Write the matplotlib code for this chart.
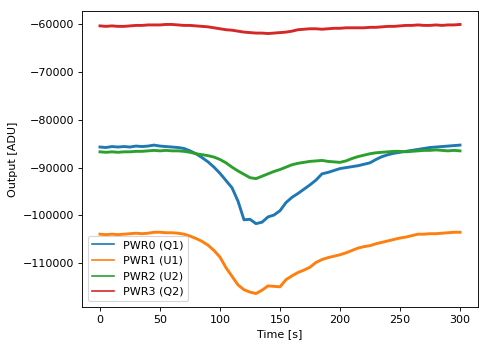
import numpy as np
import matplotlib
matplotlib.use("Agg")
import matplotlib.pyplot as plt

# time axis, one reading every 5 s
time_s = np.arange(0, 301, 5)

pwr0 = [-85700, -85800, -85600, -85700, -85600, -85700, -85500, -85600, -85500, -85300,
        -85500, -85600, -85700, -85800, -86000, -86500, -87100, -87900, -88800, -89900,
        -91200, -92700, -94200, -97000, -100900, -100800, -101700, -101400, -100300, -99900,
        -99000, -97300, -96200, -95400, -94500, -93600, -92600, -91300, -91000, -90600,
        -90200, -90000, -89800, -89600, -89300, -89000, -88300, -87700, -87300, -87000,
        -86800, -86600, -86400, -86200, -86000, -85800, -85700, -85600, -85500, -85400,
        -85300]

pwr1 = [-103900, -104000, -103900, -104000, -103900, -103800, -103700, -103800, -103700, -103500,
        -103500, -103600, -103600, -103700, -103900, -104300, -104800, -105400, -106200, -107300,
        -108700, -110900, -112700, -114500, -115500, -116000, -116300, -115600, -114700, -114800,
        -114900, -113400, -112600, -111900, -111400, -110800, -109800, -109200, -108800, -108500,
        -108200, -107800, -107300, -106800, -106500, -106300, -105900, -105600, -105300, -105000,
        -104700, -104500, -104200, -103900, -103900, -103800, -103800, -103700, -103600, -103500,
        -103500]

pwr2 = [-86700, -86800, -86700, -86800, -86700, -86700, -86600, -86600, -86500, -86400,
        -86500, -86400, -86500, -86500, -86600, -86800, -87100, -87300, -87500, -87800,
        -88300, -89000, -89900, -90700, -91400, -92100, -92300, -91800, -91300, -90800,
        -90400, -89900, -89400, -89100, -88900, -88700, -88600, -88500, -88700, -88800,
        -88900, -88600, -88100, -87700, -87400, -87100, -86900, -86800, -86700, -86600,
        -86600, -86700, -86600, -86500, -86400, -86400, -86300, -86400, -86500, -86400,
        -86500]

pwr3 = [-60400, -60500, -60400, -60500, -60500, -60400, -60300, -60300, -60200, -60200,
        -60200, -60100, -60100, -60200, -60300, -60300, -60400, -60500, -60600, -60800,
        -61000, -61200, -61300, -61500, -61700, -61800, -61900, -61900, -62000, -61900,
        -61800, -61700, -61500, -61200, -61100, -61000, -61000, -61100, -61000, -60900,
        -60900, -60800, -60800, -60800, -60800, -60700, -60700, -60600, -60500, -60500,
        -60400, -60300, -60300, -60200, -60300, -60300, -60200, -60300, -60200, -60200,
        -60100]

labels = ['PWR0 (Q1)', 'PWR1 (U1)', 'PWR2 (U2)', 'PWR3 (Q2)']

fig = plt.figure(figsize=(489 / 80, 347 / 80), dpi=80)
ax = fig.add_axes([82 / 489, 1 - 307 / 347, (478 - 82) / 489, (307 - 11) / 347])

for vals, lab in zip([pwr0, pwr1, pwr2, pwr3], labels):
    ax.plot(time_s, vals, lw=2.6, label=lab)

ax.set_xlabel('Time [s]')
ax.set_ylabel('Output [ADU]')
leg = ax.legend(loc='lower left')
for line in leg.get_lines():
    line.set_linewidth(1.5)

fig.savefig('out.png', dpi=80)
